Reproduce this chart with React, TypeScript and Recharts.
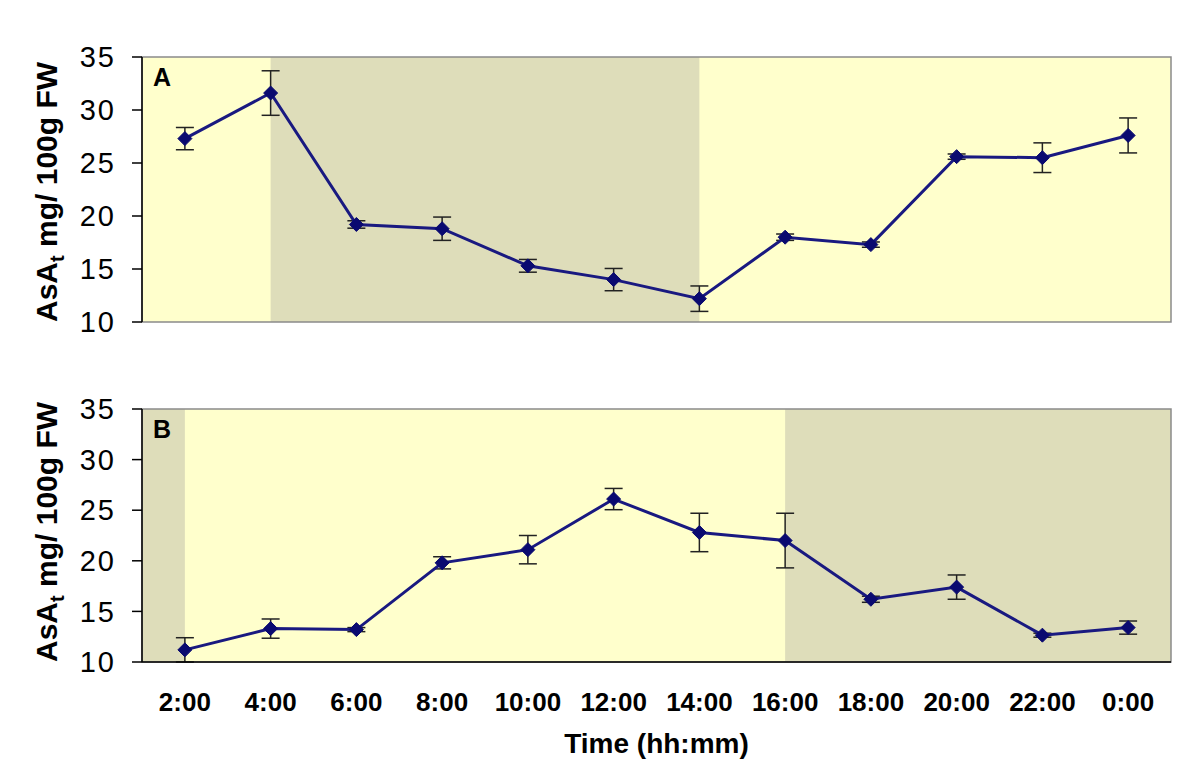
import React from 'react';
import {
  ComposedChart, Line, XAxis, YAxis, ErrorBar, ReferenceArea, Label,
} from 'recharts';

const times = ['2:00', '4:00', '6:00', '8:00', '10:00', '12:00', '14:00', '16:00', '18:00', '20:00', '22:00', '0:00'];

// panel A
const asaA = [27.3, 31.6, 19.2, 18.8, 15.3, 14.0, 12.2, 18.0, 17.3, 25.6, 25.5, 27.6];
const errA = [1.05, 2.1, 0.35, 1.1, 0.6, 1.05, 1.2, 0.3, 0.25, 0.25, 1.4, 1.65];
// dark (night) bands, in category units along the time axis
const darkA = [[1.5, 6.5]];

// panel B
const asaB = [11.2, 13.3, 13.2, 19.8, 21.1, 26.1, 22.8, 22.0, 16.2, 17.4, 12.65, 13.4];
const errB = [1.2, 0.95, 0.2, 0.6, 1.4, 1.05, 1.9, 2.7, 0.3, 1.2, 0.2, 0.65];
const darkB = [[0, 0.5], [7.5, 12]];

const yTicks = [10, 15, 20, 25, 30, 35];
const bounds = times.map((_, i) => i).concat([times.length]);
const centers = times.map((_, i) => i + 0.5);

const FONT = '"Liberation Sans", Arial, sans-serif';
const LIGHT = '#FFFFCC';
const DARK = '#DEDDBA';
const LINE = '#191980';
const MARK = '#0a0a70';

const toRows = (vals: number[], errs: number[]) =>
  times.map((t, i) => ({ time: t, x: i + 0.5, v: vals[i], err: errs[i] }));

const Diamond = (p: any) => {
  const { cx, cy, index } = p;
  if (cx == null || cy == null) return null;
  const s = 7;
  return (
    <polygon
      key={'d' + index}
      points={`${cx},${cy - s} ${cx + s},${cy} ${cx},${cy + s} ${cx - s},${cy}`}
      fill={MARK}
      stroke={MARK}
      strokeWidth={1}
    />
  );
};

const YTitle = (props: any) => {
  const vb = props.viewBox || {};
  const x = 57;
  const y = vb.y + vb.height;
  return (
    <text
      x={x}
      y={y}
      transform={`rotate(-90, ${x}, ${y})`}
      textAnchor="start"
      fontFamily={FONT}
      fontWeight="bold"
      fontSize={30}
      fill="#000"
    >
      AsA
      <tspan fontSize={20} dy={7}>t</tspan>
      <tspan dy={-7}> mg/ 100g FW</tspan>
    </text>
  );
};

const Panel = ({
  rows, dark, tag, bottom,
}: { rows: any[]; dark: number[][]; tag: string; bottom: boolean }) => {
  // "a" = tick-mark axis next to the plot, "b" = category labels below it
  const xid = 'a';
  return (
    <ComposedChart
      width={1197}
      height={bottom ? 439 : 340}
      data={rows}
      margin={bottom ? { top: 69, right: 26, bottom: 15, left: 0 } : { top: 57, right: 26, bottom: 18, left: 0 }}
    >
      {bottom ? (
        <XAxis
          xAxisId="a"
          dataKey="x"
          type="number"
          domain={[0, 12]}
          ticks={bounds}
          tick={false}
          tickSize={10}
          height={12}
          axisLine={{ stroke: '#000', strokeWidth: 1.5 }}
          tickLine={{ stroke: '#000', strokeWidth: 1.5 }}
        />
      ) : (
        <XAxis xAxisId="a" dataKey="x" type="number" domain={[0, 12]} hide />
      )}
      {bottom && (
        <XAxis
          xAxisId="b"
          dataKey="x"
          type="number"
          domain={[0, 12]}
          ticks={centers}
          tickFormatter={(v: number) => times[Math.floor(v)]}
          interval={0}
          axisLine={false}
          tickLine={false}
          tickSize={0}
          tickMargin={19}
          height={90}
          tick={{ fontFamily: FONT, fontSize: 26, fontWeight: 'bold', fill: '#000' }}
        >
          <Label
            value="Time (hh:mm)"
            position="insideTop"
            offset={59}
            style={{ fontFamily: FONT, fontSize: 28, fontWeight: 'bold', fill: '#000' }}
          />
        </XAxis>
      )}
      <YAxis
        type="number"
        domain={[10, 35]}
        ticks={yTicks}
        width={142}
        tickSize={10}
        tickMargin={16}
        axisLine={{ stroke: '#000', strokeWidth: 1.5 }}
        tickLine={{ stroke: '#000', strokeWidth: 1.5 }}
        tick={{ fontFamily: FONT, fontSize: 29, fill: '#000', letterSpacing: 2 }}
        label={{ content: <YTitle /> }}
      />
      <ReferenceArea xAxisId={xid} x1={0} x2={12} y1={10} y2={35} fill={LIGHT} fillOpacity={1} stroke="none" />
      {dark.map(([a, b], i) => (
        <ReferenceArea key={i} xAxisId={xid} x1={a} x2={b} y1={10} y2={35} fill={DARK} fillOpacity={1} stroke="none" />
      ))}
      <ReferenceArea
        xAxisId={xid}
        x1={0}
        x2={12}
        y1={10}
        y2={35}
        fill="none"
        stroke="#8a8a8a"
        strokeWidth={1.5}
        label={{ value: tag, position: 'insideTopLeft', offset: 11, fontSize: 25, fontWeight: 'bold', fontFamily: FONT, fill: '#000' }}
      />
      <Line
        xAxisId={xid}
        dataKey="v"
        type="linear"
        stroke={LINE}
        strokeWidth={3}
        dot={Diamond}
        activeDot={false}
        isAnimationActive={false}
      >
        <ErrorBar dataKey="err" width={9} stroke="#222" strokeWidth={1.5} isAnimationActive={false} />
      </Line>
    </ComposedChart>
  );
};

export default function App() {
  return (
    <div style={{ position: 'absolute', left: 0, top: 0, width: 1197, height: 779, background: '#fff' }}>
      <div style={{ position: 'absolute', left: 0, top: 0 }}>
        <Panel rows={toRows(asaA, errA)} dark={darkA} tag="A" bottom={false} />
      </div>
      <div style={{ position: 'absolute', left: 0, top: 340 }}>
        <Panel rows={toRows(asaB, errB)} dark={darkB} tag="B" bottom />
      </div>
    </div>
  );
}
